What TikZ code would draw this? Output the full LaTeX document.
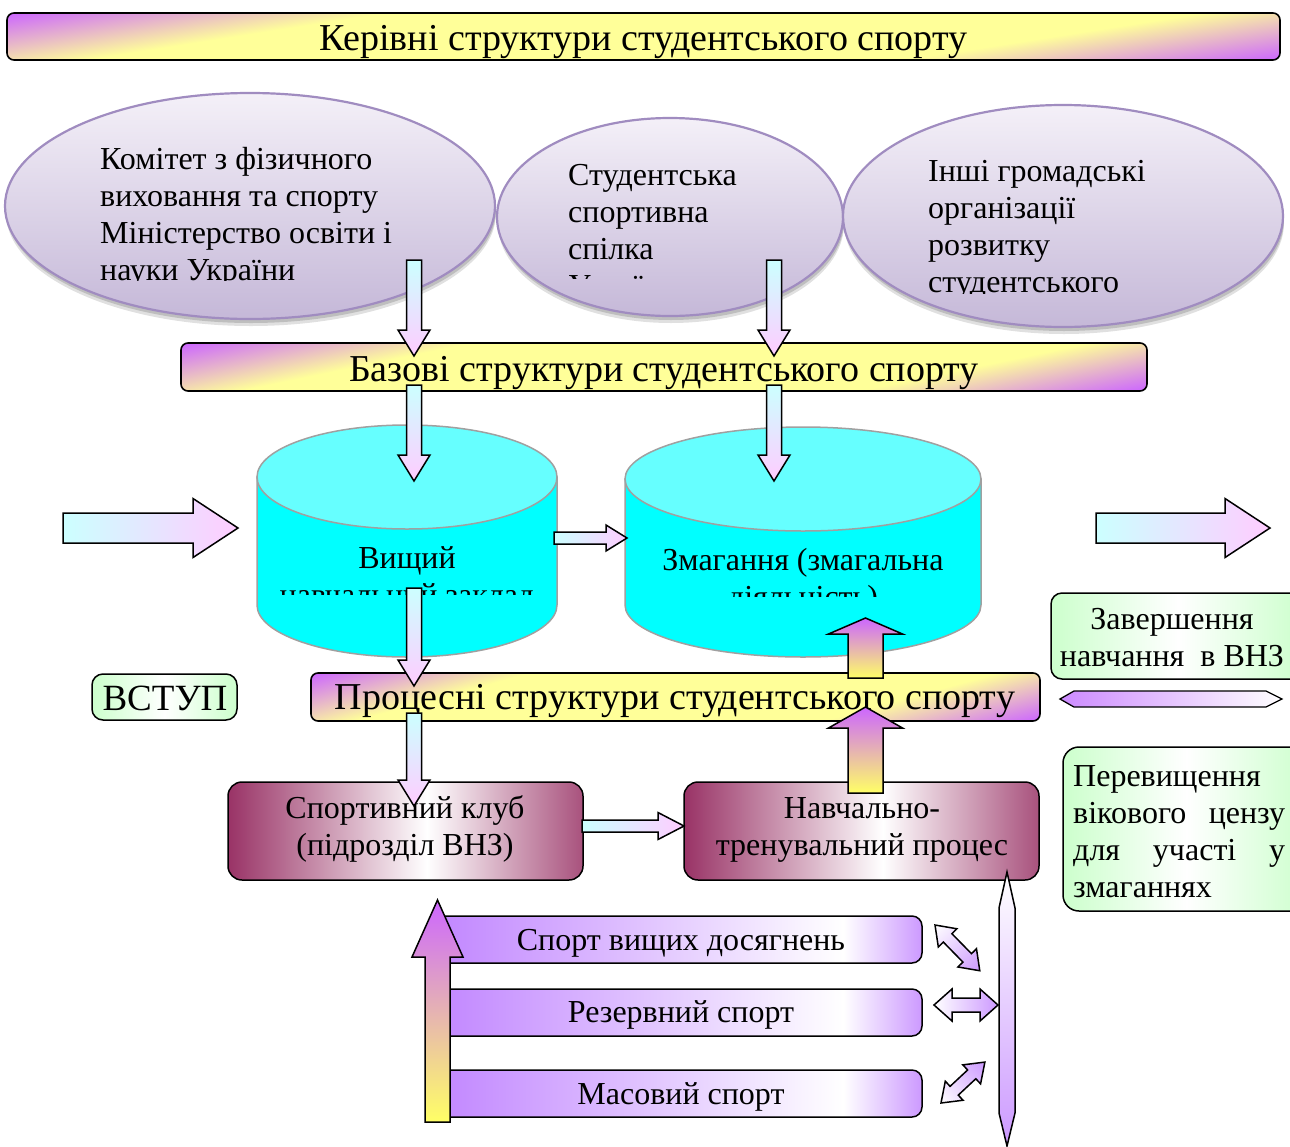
\documentclass[tikz,border=0pt]{standalone}
\usepackage{fontspec}
\setmainfont{Liberation Serif}
\usetikzlibrary{shapes.geometric}
\definecolor{bpur}{HTML}{CC66FF}
\definecolor{byel}{HTML}{FFFF99}
\definecolor{ayel}{HTML}{FFFF66}
\definecolor{acyan}{HTML}{CCFFFF}
\definecolor{apink}{HTML}{FFCCFF}
\definecolor{elltop}{HTML}{F4F0F8}
\definecolor{ellbot}{HTML}{C5B8D8}
\definecolor{ellbord}{HTML}{A08CC0}
\definecolor{cylbody}{HTML}{00FFFF}
\definecolor{cyltop}{HTML}{66FFFF}
\definecolor{cylbord}{HTML}{A0A0A0}
\definecolor{lgreen}{HTML}{CCFFCC}
\definecolor{maroonc}{HTML}{993366}
\definecolor{lpur}{HTML}{CC99FF}
\definecolor{barpur}{HTML}{C084FF}
\pgfdeclarehorizontalshading{bannersh}{100bp}{color(0bp)=(bpur); color(25bp)=(bpur); color(37bp)=(byel); color(63bp)=(byel); color(75bp)=(bpur); color(100bp)=(bpur)}
\pgfdeclarehorizontalshading{maroonsh}{100bp}{color(0bp)=(maroonc); color(25bp)=(maroonc); color(53bp)=(white); color(75bp)=(maroonc!85!white); color(100bp)=(maroonc!85!white)}
\pgfdeclarehorizontalshading{barsh}{100bp}{color(0bp)=(barpur); color(25bp)=(barpur); color(67bp)=(white); color(75bp)=(lpur); color(100bp)=(lpur)}
\pgfdeclarehorizontalshading{greensh}{100bp}{color(0bp)=(lgreen); color(25bp)=(lgreen); color(50bp)=(white); color(75bp)=(lgreen); color(100bp)=(lgreen)}
% vertical block arrow: cx, y base, y head base, y tip, shaft half, head half, style
\newcommand{\vblk}[7]{\path[#7] ({#1-#5},#2) -- ({#1-#5},#3) -- ({#1-#6},#3) -- (#1,#4) -- ({#1+#6},#3) -- ({#1+#5},#3) -- ({#1+#5},#2) -- cycle;}
% horizontal block arrow: cy, x base, x head base, x tip, shaft half, head half, style
\newcommand{\hblk}[7]{\path[#7] (#2,{#1-#5}) -- (#3,{#1-#5}) -- (#3,{#1-#6}) -- (#4,#1) -- (#3,{#1+#6}) -- (#3,{#1+#5}) -- (#2,{#1+#5}) -- cycle;}
% double arrow: x, y, angle, length, shaft half, head half
\newcommand{\dblk}[6]{\begin{scope}[transform canvas={shift={(#1,#2)}, rotate=#3}]
 \shade[draw, line width=1.5, left color=white, right color=lpur] (0,0) -- (18,-#6) -- (18,-#5) -- ({#4-18},-#5) -- ({#4-18},-#6) -- (#4,0) -- ({#4-18},#6) -- ({#4-18},#5) -- (18,#5) -- (18,#6) -- cycle;
 \end{scope}}
% banner: name, x0, y0, x1, y1, angle, gradient length
\newcommand{\bannerbox}[7]{\begin{scope}
 \clip[rounded corners=7] (#2,#3) rectangle (#4,#5);
 \begin{scope}[transform canvas={rotate around={#6:({(#2+#4)/2},{(#3+#5)/2})}}]
 \shade[shading=bannersh] ({(#2+#4)/2-#7/2},{(#3+#5)/2-1500}) rectangle ({(#2+#4)/2+#7/2},{(#3+#5)/2+1500});
 \end{scope}\end{scope}
 \node[draw, line width=1.6, rounded corners=7, inner sep=0, minimum width={#4-#2}, minimum height={#5-#3}] (#1) at ({(#2+#4)/2},{(#3+#5)/2}) {};}
% cylinder: cx, rx, y top centre, y bottom centre, ry
\newcommand{\cylshape}[5]{\path[draw=cylbord, line width=1.5, fill=cylbody] ({#1-#2},#3) -- ({#1-#2},#4) arc[start angle=180, end angle=0, x radius=#2, y radius=#5] -- ({#1+#2},#3) -- cycle;
 \path[draw=cylbord, line width=1.5, fill=cyltop] (#1,#3) ellipse [x radius=#2, y radius=#5];}
\begin{document}
\begin{tikzpicture}[x=1pt,y=-1pt,
 txt/.style={inner sep=0, font=\fontsize{32}{37}\selectfont, anchor=base},
 txtl/.style={txt, anchor=base west},
 bantxt/.style={inner sep=0, font=\fontsize{38}{44}\selectfont, anchor=base},
 ell/.style={ellipse, draw=ellbord, line width=2.2, top color=elltop, bottom color=ellbot, inner sep=0},
 downarr/.style={draw=black, line width=1.5, top color=acyan, bottom color=apink},
 rightarr/.style={draw=black, line width=1.5, left color=acyan, right color=apink},
 uparr/.style={draw=black, line width=1.5, top color=bpur, bottom color=ayel},
 greenbox/.style={draw=black, line width=1.5, rounded corners=11, shading=greensh},
 maroonbox/.style={draw=black, line width=1.5, rounded corners=14, shading=maroonsh},
 barbox/.style={draw=black, line width=1.5, rounded corners=10, shading=barsh}]
\useasboundingbox (0,0) rectangle (1290,1146);
\fill[white] (0,0) rectangle (1290,1146);

% top banner
\bannerbox{ban1}{7}{13}{1280}{60}{-81.1}{243}
\node[bantxt] (ban1t) at (643.5,50) {Керівні структури студентського спорту};

% ellipse shadows
\foreach \cx/\cy/\rx/\ry in {250/206/245/113, 670/217/173/99, 1063/216/220/111}{
 \fill[black, opacity=.12] (\cx+1,\cy+7) ellipse [x radius=\rx, y radius=\ry];
 \fill[black, opacity=.15] (\cx+1,\cy+4) ellipse [x radius=\rx, y radius=\ry];
}
\node[ell, minimum width=490, minimum height=226] (e1) at (250,206) {};
\node[ell, minimum width=346, minimum height=198] (e2) at (670,217) {};
\node[ell, minimum width=440, minimum height=222] (e3) at (1063,216) {};
\begin{scope}
\clip (0,90) rectangle (500,280);
\node[txtl] (e1a) at (100,169) {Комітет з фізичного};
\node[txtl] (e1b) at (100,206) {виховання та спорту};
\node[txtl] (e1c) at (100,243) {Міністерство освіти і};
\node[txtl] (e1d) at (100,280) {науки України};
\end{scope}
\begin{scope}
\clip (500,90) rectangle (840,278);
\node[txtl] (e2a) at (568,185) {Студентська};
\node[txtl] (e2b) at (568,222) {спортивна};
\node[txtl] (e2c) at (568,259) {спілка};
\node[txtl] (e2d) at (568,296) {України};
\end{scope}
\begin{scope}
\clip (845,90) rectangle (1280,293);
\node[txtl] (e3a) at (928,181) {Інші громадські};
\node[txtl] (e3b) at (928,218) {організації};
\node[txtl] (e3c) at (928,255) {розвитку};
\node[txtl] (e3d) at (928,292) {студентського};
\end{scope}

% basic banner
\bannerbox{ban2}{181}{343}{1147}{391}{-78.3}{241}
\node[bantxt] (ban2t) at (664,381) {Базові структури студентського спорту};

% cylinders
\cylshape{407}{150}{477}{605}{52}
\cylshape{803}{178}{479}{605}{52}
\coordinate (cyl1) at (407,541);
\coordinate (cyl2) at (803,541);
\begin{scope}
\clip (257,530) rectangle (557,594);
\node[txt] (c1a) at (407,568) {Вищий};
\node[txt] (c1b) at (407,605) {навчальний заклад};
\end{scope}
\begin{scope}
\clip (625,530) rectangle (981,596);
\node[txt] (c2a) at (803,570) {Змагання (змагальна};
\node[txt] (c2b) at (803,607) {діяльність)};
\end{scope}

% big side arrows
\hblk{528}{63}{193}{238}{15}{29.5}{rightarr}
\hblk{528}{1096}{1225}{1270}{15}{29.5}{rightarr}
\hblk{538}{554}{606}{627}{6}{13}{rightarr}

% process banner
\bannerbox{ban3}{311}{673}{1040}{721}{-74.7}{237}
\node[bantxt] (ban3t) at (675,709) {Процесні структури студентського спорту};

% entry box
\shade[greenbox] (92,674) rectangle (237,720);
\node[inner sep=0, font=\fontsize{37}{42}\selectfont, anchor=base] (vstup) at (165,710) {ВСТУП};

% club boxes
\shade[maroonbox] (228,782) rectangle (583,880);
\shade[maroonbox] (684,782) rectangle (1039,880);
\node[txt] (k1a) at (405,818) {Спортивний клуб};
\node[txt] (k1b) at (405,855) {(підрозділ ВНЗ)};
\node[txt] (k2a) at (862,818) {Навчально-};
\node[txt] (k2b) at (862,855) {тренувальний процес};
\hblk{826}{582}{658}{684}{6}{13.5}{rightarr}

% sport levels
\shade[barbox] (430,916) rectangle (922,963);
\shade[barbox] (430,989) rectangle (922,1036);
\shade[barbox] (430,1070) rectangle (922,1117);
\node[txt] (s1) at (681,950) {Спорт вищих досягнень};
\node[txt] (s2) at (681,1022) {Резервний спорт};
\node[txt] (s3) at (681,1104) {Масовий спорт};
\vblk{437.5}{1122}{957}{900}{12.5}{25.5}{uparr}

% needle and small double arrows
\shade[draw, line width=1.5, top color=white, bottom color=lpur] (1007,872) -- (1015,908) -- (1015,1113) -- (1007,1146) -- (999,1113) -- (999,908) -- cycle;
\dblk{935}{925}{-45.6}{64}{6}{13}
\dblk{934}{1005}{0}{64}{7}{16}
\dblk{941}{1103}{43}{60}{6}{13}

% right side boxes
\shade[greenbox] (1051,593) rectangle (1305,679);
\node[txt] (z1) at (1172,629) {Завершення};
\node[txt] (z2) at (1172,666) {навчання~ в ВНЗ};
\shade[draw, line width=1.3, left color=lpur!70!bpur, right color=white] (1060,699) -- (1074,691) -- (1266,691) -- (1282,699) -- (1266,707) -- (1074,707) -- cycle;
\shade[greenbox, rounded corners=16] (1063,747) rectangle (1310,911);
\node[txtl] (p1) at (1073,786) {Перевищення};
\node[txtl] (p2) at (1073,823) {\makebox[212pt][l]{вікового\hfill цензу}};
\node[txtl] (p3) at (1073,860) {\makebox[212pt][l]{для\hfill участі\hfill у}};
\node[txtl] (p4) at (1073,897) {змаганнях};

% down arrows
\vblk{414}{260}{330}{356}{7.5}{16}{downarr}
\vblk{774}{260}{330}{356}{7.5}{16}{downarr}
\vblk{414}{385}{455}{481}{7.5}{16}{downarr}
\vblk{774}{385}{455}{481}{7.5}{16}{downarr}
\vblk{414}{588}{660}{686}{7.5}{16}{downarr}
\vblk{414}{713}{780}{806}{7.5}{16}{downarr}
% up arrows
\vblk{865.5}{678}{634}{618}{17.5}{37}{uparr}
\vblk{865.5}{793}{728}{707}{17.5}{37}{uparr}
\end{tikzpicture}
\end{document}
